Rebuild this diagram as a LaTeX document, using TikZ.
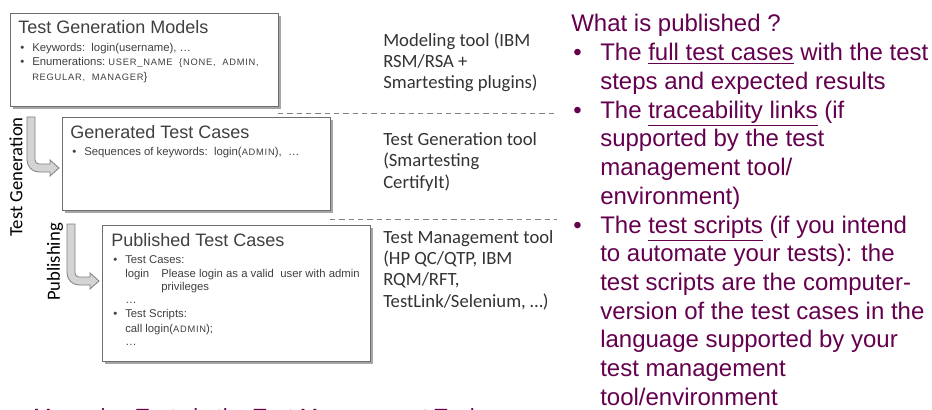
\documentclass[tikz,border=0pt]{standalone}
\usepackage{fontspec}
\setmainfont{Liberation Sans}
\newfontfamily\calib{Carlito}
\usetikzlibrary{shadows}
\definecolor{pubpurple}{RGB}{100,0,78}
\definecolor{boxgray}{RGB}{110,110,110}
\definecolor{txtgray}{RGB}{64,64,64}
\newcommand{\kwcaps}[1]{{\fontsize{7}{8}\selectfont\addfontfeature{LetterSpace=8}#1}}
\tikzset{
  casebox/.style={draw=boxgray, line width=0.8pt, fill=white, anchor=north west, minimum width=201pt, inner sep=0pt,
    drop shadow={shadow xshift=1.5pt, shadow yshift=-1.5pt, fill=black!50, opacity=0.7}},
  boxtitle/.style={anchor=base west, inner sep=0pt, text=txtgray, font=\fontsize{13.5}{16}\selectfont},
  boxitem/.style={anchor=base west, inner sep=0pt, text=txtgray, font=\fontsize{8.5}{10.3}\selectfont},
  % multi-line texts are placed by the baseline of their last line
  tooltext/.style={anchor=base west, inner sep=0pt, align=left, text=black!80, font=\calib\fontsize{14}{16.1}\selectfont},
  pubtext/.style={anchor=base west, inner sep=0pt, align=left, text=pubpurple, font=\fontsize{18}{21.5}\selectfont},
  sidelabel/.style={rotate=90, inner sep=0pt, font=\calib\fontsize{14}{16}\selectfont},
  layerline/.style={draw=gray, line width=0.6pt, dash pattern=on 4pt off 3pt},
  arrowfill/.style={fill=black!17, draw=black!50, line width=0.6pt},
  pics/bentarrow/.style={code={
    \draw[arrowfill] (0,0) -- (0,-#1+8) arc[start angle=180, end angle=270, radius=12] -- (23,-#1-4) -- (23,-#1-8)
      -- (32,-#1) -- (23,-#1+8) -- (23,-#1+4) -- (12,-#1+4) arc[start angle=270, end angle=180, radius=4] -- (8,0) -- cycle;
  }}
}
\begin{document}
\begin{tikzpicture}[x=0.75pt,y=0.75pt,yscale=-1,xscale=1]
\useasboundingbox (0,0) rectangle (932,410);
% layers of the tool chain
\node[casebox, minimum height=69.75pt] (models) at (10,13) {};
\node[casebox, minimum height=69.75pt] (generated) at (62,117) {};
\node[casebox, minimum height=102pt] (published) at (102,225) {};
% test generation models
\node[boxtitle] (modelstitle) at (18,34) {Test Generation Models};
\node[boxitem] (mb1) at (20,52) {\textbullet};
\node[boxitem] (mi1) at (32,52) {Keywords:\ \ login(username), \dots};
\node[boxitem] (mb2) at (20,66) {\textbullet};
\node[boxitem] (mi2) at (32,66) {Enumerations:\ \kwcaps{USER\_NAME\ \ \{NONE,\ \ ADMIN,}};
\node[boxitem] (mi3) at (32,80) {\kwcaps{REGULAR,\ \ MANAGER}\}};
% generated test cases
\node[boxtitle] (gentitle) at (70,138) {Generated Test Cases};
\node[boxitem] (gb1) at (72,155) {\textbullet};
\node[boxitem] (gi1) at (84,155) {Sequences of keywords:\ \ login(\kwcaps{ADMIN}),\ \ \dots};
% published test cases
\node[boxtitle] (pubtitle) at (111,246) {Published Test Cases};
\node[boxitem] (pb1) at (113,263) {\textbullet};
\node[boxitem] (pi1) at (125,263) {Test Cases:};
\node[boxitem] (pi2) at (125,277) {login};
\node[boxitem] (pi3) at (161,277) {Please login as a valid\ \ user with admin};
\node[boxitem] (pi4) at (161,290) {privileges};
\node[boxitem] (pi5) at (125,303) {\dots};
\node[boxitem] (pb2) at (113,317) {\textbullet};
\node[boxitem] (pi6) at (125,317) {Test Scripts:};
\node[boxitem] (pi7) at (125,332) {call login(\kwcaps{ADMIN});};
\node[boxitem] (pi8) at (125,345) {\dots};
% separators between layers
\coordinate (sep1a) at (278,113);
\coordinate (sep1b) at (557,113);
\coordinate (sep2a) at (330,219);
\coordinate (sep2b) at (557,219);
\draw[layerline] (sep1a) -- (sep1b);
\draw[layerline] (sep2a) -- (sep2b);
% tools
\node[tooltext] (tool1) at (383,89) {Modeling tool (IBM\\RSM/RSA +\\Smartesting plugins)};
\node[tooltext] (tool2) at (383,188) {Test Generation tool\\(Smartesting\\CertifyIt)};
\node[tooltext] (tool3) at (383,307.4) {Test Management tool\\(HP QC/QTP, IBM\\RQM/RFT,\\TestLink/Selenium, …)};
% steps
\pic at (27,117) {bentarrow=51};
\pic at (67,224) {bentarrow=57};
\node[sidelabel] (stepgen) at (16,177) {Test Generation};
\node[sidelabel] (steppub) at (55,262) {Publishing};
% what is published
\node[pubtext] (pubhead) at (571,32) {What is published ?};
\node[pubtext] (dot1) at (573,60.7) {\textbullet};
\node[pubtext] (pub1) at (600,89.4) {The \underline{full test cases} with the test\\steps and expected results};
\node[pubtext] (dot2) at (573,118) {\textbullet};
\node[pubtext] (pub2) at (600,204.1) {The \underline{traceability links} (if\\supported by the test\\management tool/\\environment)};
\node[pubtext] (dot3) at (573,233) {\textbullet};
\node[pubtext] (pub3) at (600,405.2) {The \underline{test scripts} (if you intend\\to automate your tests): the\\test scripts are the computer-\\version of the test cases in the\\language supported by your\\test management\\tool/environment};
\begin{scope}
\clip (0,0) rectangle (932,410);
\node[pubtext, font=\fontsize{16.5}{20}\selectfont] (caption) at (33,424) {Managing Tests in the Test Management Tool};
\end{scope}
\end{tikzpicture}
\end{document}
